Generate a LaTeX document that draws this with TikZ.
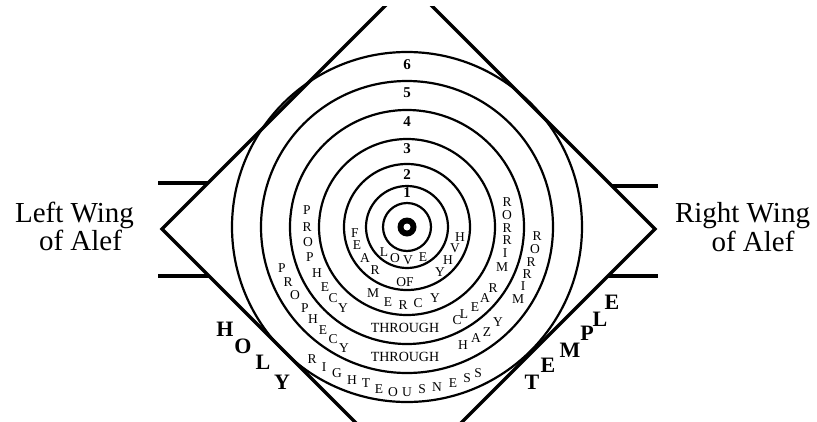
\documentclass[tikz,border=0pt]{standalone}
\usepackage{fontspec}
\setmainfont{Liberation Serif}
\begin{document}
\begin{tikzpicture}[x=1pt,y=-1pt,
  ring/.style={line width=2.2pt},
  frame/.style={line width=3.2pt},
  bar/.style={line width=4pt},
  lt/.style={font=\fontsize{13.5}{14}\selectfont, inner sep=0pt},
  thr/.style={font=\fontsize{14}{15}\selectfont, inner sep=0pt},
  num/.style={font=\bfseries\fontsize{15}{16}\selectfont, inner sep=0pt},
  big/.style={font=\bfseries\fontsize{22}{24}\selectfont, inner sep=0pt},
  wing/.style={font=\fontsize{29}{30}\selectfont, inner sep=0pt, anchor=base},
]
\useasboundingbox (0,0) rectangle (817,421);
\coordinate (c) at (407,227);
% diamond
\coordinate (vl) at (162,229);
\coordinate (vt) at (408.5,-17.5);
\coordinate (vr) at (655,229);
\coordinate (vb) at (408.5,475.5);
\begin{scope}
  \clip (0,6) rectangle (817,421);
  \draw[frame, line join=miter] (vl) -- (vt) -- (vr) -- (vb) -- cycle;
\end{scope}
% wing bars
\coordinate (lb1a) at (158,183); \coordinate (lb1b) at (208,183);
\coordinate (lb2a) at (158,276); \coordinate (lb2b) at (209,276);
\coordinate (rb1a) at (612,186); \coordinate (rb1b) at (658,186);
\coordinate (rb2a) at (608,276); \coordinate (rb2b) at (658,276);
\draw[bar] (lb1a) -- (lb1b);
\draw[bar] (lb2a) -- (lb2b);
\draw[bar] (rb1a) -- (rb1b);
\draw[bar] (rb2a) -- (rb2b);
% circles
\foreach \r in {24,41,63,88,117,146,175} \draw[ring] (c) circle[radius=\r];
\fill (c) circle[radius=9.5];
\fill[white] (c) circle[radius=3.5];
% numbers
\foreach \t/\y in {1/193,2/175,3/149,4/122,5/93,6/65}
  \node[num] (n\t) at (407,\y) {\t};
% LOVE
\foreach \t/\x/\y [count=\i] in {L/384/252,O/395/258,V/408/260,E/423/257}
  \node[lt] (love\i) at (\x,\y) {\t};
% FEAR OF YHVH
\foreach \t/\x/\y [count=\i] in {F/355/233,E/357/245,A/365/258,R/375/270}
  \node[lt] (fear\i) at (\x,\y) {\t};
\node[lt] (of) at (405,282) {OF};
\foreach \t/\x/\y [count=\i] in {Y/440/272,H/448/260,V/455/248,H/460/237}
  \node[lt] (yhvh\i) at (\x,\y) {\t};
% MERCY
\foreach \t/\x/\y [count=\i] in {M/373/293,E/388/302,R/403/305,C/418/303,Y/435/298}
  \node[lt] (mercy\i) at (\x,\y) {\t};
% PROPHECY 1
\foreach \t/\x/\y [count=\i] in {P/307/210,R/307/227,O/308/242,P/310/257,H/317/273,E/325/287,C/333/298,Y/343/308}
  \node[lt] (proA\i) at (\x,\y) {\t};
\node[thr] (thrA) at (405,328) {THROUGH};
\foreach \t/\x/\y [count=\i] in {C/457/320,L/464/314,E/475/307,A/485/298,R/493/288}
  \node[lt] (clear\i) at (\x,\y) {\t};
\foreach \t/\x/\y [count=\i] in {R/507/202,O/507/215,R/507/228,R/507/240,I/505/253,M/502/267}
  \node[lt] (rorA\i) at (\x,\y) {\t};
% PROPHECY 2
\foreach \t/\x/\y [count=\i] in {P/282/268,R/288/282,O/295/295,P/305/308,H/313/319,E/323/330,C/333/339,Y/344/348}
  \node[lt] (proB\i) at (\x,\y) {\t};
\node[thr] (thrB) at (405,357) {THROUGH};
\foreach \t/\x/\y [count=\i] in {H/463/345,A/476/338,Z/487/332,Y/498/322}
  \node[lt] (hazy\i) at (\x,\y) {\t};
\foreach \t/\x/\y [count=\i] in {R/537/236,O/535/249,R/531/262,R/527/274,I/523/286,M/518/299}
  \node[lt] (rorB\i) at (\x,\y) {\t};
% RIGHTEOUSNESS
\foreach \t/\x/\y [count=\i] in {R/312/359,I/324/367,G/337/373,H/352/380,T/366/383,E/379/389,O/393/392,U/407/392,S/422/389,N/437/387,E/453/383,S/467/378,S/478/373}
  \node[lt] (right\i) at (\x,\y) {\t};
% HOLY TEMPLE
\foreach \t/\x/\y [count=\i] in {H/225/329,O/243/346,L/263/362,Y/282/382}
  \node[big] (holy\i) at (\x,\y) {\t};
\foreach \t/\x/\y [count=\i] in {T/532/382,E/548/365,M/570/350,P/587/333,L/600/319,E/612/302}
  \node[big] (temple\i) at (\x,\y) {\t};
% wings
\node[wing] (lw1) at (74.5,222) {Left Wing};
\node[wing] (lw2) at (80.5,250) {of Alef};
\node[wing] (rw1) at (742.5,222) {Right Wing};
\node[wing] (rw2) at (753,251) {of Alef};
\end{tikzpicture}
\end{document}
